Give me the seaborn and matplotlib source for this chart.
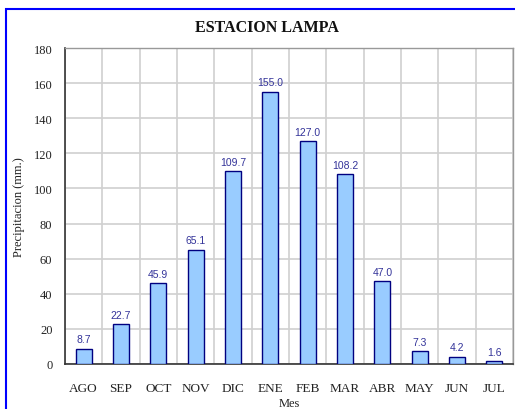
import matplotlib
matplotlib.use("Agg")
import matplotlib.pyplot as plt
import seaborn as sns
import pandas as pd
from matplotlib.patches import Rectangle
from matplotlib.ticker import FixedLocator, MultipleLocator

meses = ["AGO", "SEP", "OCT", "NOV", "DIC", "ENE", "FEB", "MAR", "ABR", "MAY", "JUN", "JUL"]
precip = [8.7, 22.7, 45.9, 65.1, 109.7, 155.0, 127.0, 108.2, 47.0, 7.3, 4.2, 1.6]

sns.set_theme(style="white")
plt.rcParams["font.family"] = ["Liberation Serif", "DejaVu Serif"]

df = pd.DataFrame({"Mes": meses, "Precip": precip})

fig = plt.figure(figsize=(5.15, 4.10), dpi=100)
ax = fig.add_axes([65/515, 1-365/410, 448/515, 316/410])

sns.barplot(data=df, x="Mes", y="Precip", color="#99CCFF", edgecolor="#000080",
            linewidth=1.0, width=0.42, saturation=1, ax=ax, zorder=3)

for i, v in enumerate(precip):
    ax.text(i, v + 2.5, f"{v:.1f}", ha="center", va="bottom", fontsize=7.5,
            color="#333399", family=["Liberation Sans", "DejaVu Sans"], zorder=4)

ax.set_ylim(0, 180)
ax.set_xlim(-0.5, len(meses) - 0.5)
ax.yaxis.set_major_locator(MultipleLocator(20))
ax.xaxis.set_minor_locator(FixedLocator([i - 0.5 for i in range(len(meses) + 1)]))
ax.tick_params(axis="x", which="major", length=0, pad=13, labelsize=9.5, colors="#222222")
ax.tick_params(axis="x", which="minor", length=4, width=1, color="#333333", direction="out")
ax.tick_params(axis="y", which="major", length=4, width=1, color="#333333", direction="out",
               labelsize=9, labelcolor="#222222", pad=5)
ax.grid(True, which="minor", axis="x", color="#D0D0D0", linewidth=1.2, zorder=0)
ax.grid(True, which="major", axis="y", color="#D0D0D0", linewidth=1.2, zorder=0)
ax.set_axisbelow(True)

for side in ["left", "bottom"]:
    ax.spines[side].set_color("#333333")
    ax.spines[side].set_linewidth(1.2)
for side in ["top", "right"]:
    ax.spines[side].set_color("#999999")
    ax.spines[side].set_linewidth(1.0)

ax.set_xlabel("Mes", fontsize=9, labelpad=2, color="#222222")
ax.set_ylabel("Precipitacion (mm.)", fontsize=9, labelpad=6, color="#222222")
fig.text(267/515, 1 - 28/410, "ESTACION LAMPA", ha="center", va="center",
         fontsize=11.5, fontweight="bold", color="#111111")

fig.patches.append(Rectangle((6/515, -0.02), 1.1, 0.02 + 1 - 10/410, transform=fig.transFigure,
                             fill=False, edgecolor="#0000FF", linewidth=1.5))

fig.savefig("out.png", dpi=100)
